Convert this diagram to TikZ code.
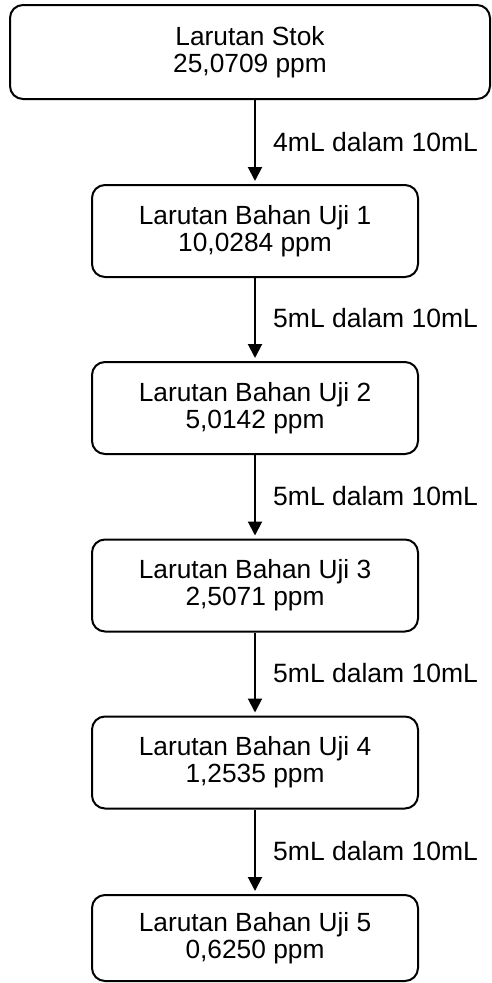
\documentclass[tikz,border=0pt]{standalone}
\usepackage{fontspec}
\setmainfont{Liberation Sans}
\usetikzlibrary{arrows.meta}
\begin{document}
\begin{tikzpicture}[x=1pt,y=-1pt,
  box/.style={draw=black, line width=2pt, rounded corners=13pt, align=center,
    font=\fontsize{26.3}{27}\selectfont, inner sep=0pt},
  flow/.style={draw=black, line width=2pt, -{Triangle[width=14pt,length=14pt]}, shorten >=3pt},
  lbl/.style={anchor=west, font=\fontsize{26.5}{27}\selectfont, inner sep=0pt}]
\useasboundingbox (0,0) rectangle (492,983);
\node[box, minimum width=480pt, minimum height=94pt] (b0) at (250,52) {Larutan Stok\\25,0709 ppm};
\node[box, minimum width=326pt, minimum height=92pt] (b1) at (255,231) {Larutan Bahan Uji 1\\10,0284 ppm};
\node[box, minimum width=326pt, minimum height=92pt] (b2) at (255,408) {Larutan Bahan Uji 2\\5,0142 ppm};
\node[box, minimum width=326pt, minimum height=92pt] (b3) at (255,585.5) {Larutan Bahan Uji 3\\2,5071 ppm};
\node[box, minimum width=326pt, minimum height=92pt] (b4) at (255,762.5) {Larutan Bahan Uji 4\\1,2535 ppm};
\node[box, minimum width=326pt, minimum height=86pt] (b5) at (255,938) {Larutan Bahan Uji 5\\0,6250 ppm};
\draw[flow] (b0.south -| b1.north) -- (b1.north);
\draw[flow] (b1.south) -- (b2.north);
\draw[flow] (b2.south) -- (b3.north);
\draw[flow] (b3.south) -- (b4.north);
\draw[flow] (b4.south) -- (b5.north);
\node[lbl] (l1) at (273,142) {4mL dalam 10mL};
\node[lbl] (l2) at (273,318) {5mL dalam 10mL};
\node[lbl] (l3) at (273,496) {5mL dalam 10mL};
\node[lbl] (l4) at (273,673) {5mL dalam 10mL};
\node[lbl] (l5) at (273,851) {5mL dalam 10mL};
\end{tikzpicture}
\end{document}
